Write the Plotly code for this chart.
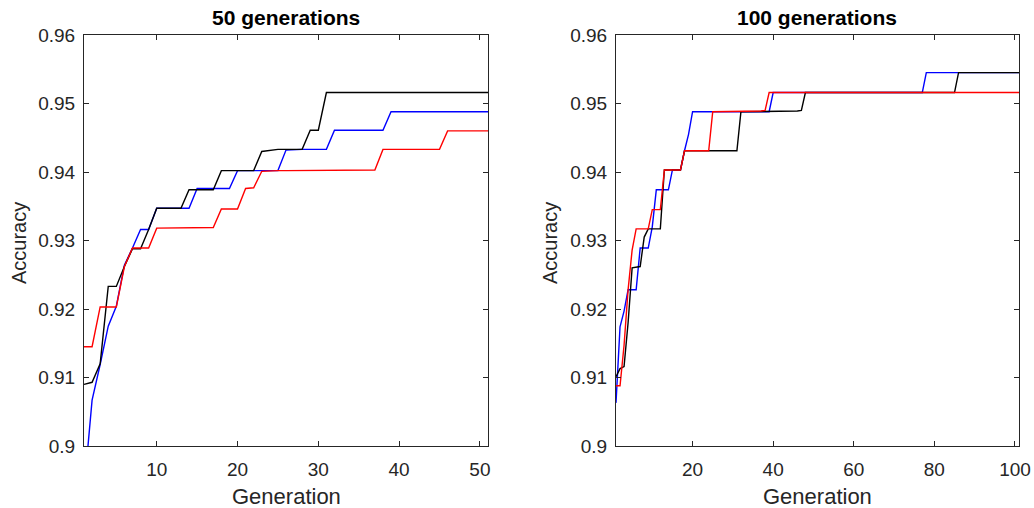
import plotly.graph_objects as go

gen_50 = list(range(1, 52))
gen_100 = list(range(1, 102))

black_50 = [
    0.9090, 0.9093, 0.9120, 0.9233, 0.9233, 0.9262, 0.9288, 0.9288, 0.9316, 0.9347,
    0.9347, 0.9347, 0.9347, 0.9374, 0.9374, 0.9374, 0.9374, 0.9402, 0.9402, 0.9402,
    0.9402, 0.9402, 0.9430, 0.9432, 0.9433, 0.9433, 0.9433, 0.9433, 0.9461, 0.9461,
    0.9516, 0.9516, 0.9516, 0.9516, 0.9516, 0.9516, 0.9516, 0.9516, 0.9516, 0.9516,
    0.9516, 0.9516, 0.9516, 0.9516, 0.9516, 0.9516, 0.9516, 0.9516, 0.9516, 0.9516,
    0.9516,
]
blue_50 = [
    0.8935, 0.9067, 0.9119, 0.9175, 0.9204, 0.9264, 0.9289, 0.9316, 0.9316, 0.9347,
    0.9347, 0.9347, 0.9347, 0.9347, 0.9376, 0.9376, 0.9376, 0.9376, 0.9376, 0.9402,
    0.9402, 0.9402, 0.9402, 0.9402, 0.9402, 0.9432, 0.9433, 0.9433, 0.9433, 0.9433,
    0.9433, 0.9461, 0.9461, 0.9461, 0.9461, 0.9461, 0.9461, 0.9461, 0.9488, 0.9488,
    0.9488, 0.9488, 0.9488, 0.9488, 0.9488, 0.9488, 0.9488, 0.9488, 0.9488, 0.9488,
    0.9488,
]
red_50 = [
    0.9145, 0.9145, 0.9203, 0.9203, 0.9203, 0.9262, 0.9289, 0.9289, 0.9289, 0.9318,
    0.9318, 0.9318, 0.9318, 0.9318, 0.9318, 0.9319, 0.9319, 0.9346, 0.9346, 0.9346,
    0.9376, 0.9377, 0.9401, 0.9402, 0.9402, 0.9402, 0.9402, 0.9403, 0.9403, 0.9403,
    0.9403, 0.9403, 0.9403, 0.9403, 0.9403, 0.9403, 0.9403, 0.9433, 0.9433, 0.9433,
    0.9433, 0.9433, 0.9433, 0.9433, 0.9433, 0.9460, 0.9460, 0.9460, 0.9460, 0.9460,
    0.9460,
]

blue_100 = [
    0.9063, 0.9174, 0.9197, 0.9228, 0.9228, 0.9228, 0.9289, 0.9289, 0.9289, 0.9320,
    0.9374, 0.9374, 0.9374, 0.9374, 0.9403, 0.9403, 0.9403, 0.9431, 0.9455, 0.9488,
    0.9488, 0.9488, 0.9488, 0.9488, 0.9488, 0.9488, 0.9488, 0.9488, 0.9488, 0.9488,
    0.9488, 0.9488, 0.9488, 0.9488, 0.9488, 0.9488, 0.9488, 0.9488, 0.9488, 0.9516,
    0.9516, 0.9516, 0.9516, 0.9516, 0.9516, 0.9516, 0.9516, 0.9516, 0.9516, 0.9516,
    0.9516, 0.9516, 0.9516, 0.9516, 0.9516, 0.9516, 0.9516, 0.9516, 0.9516, 0.9516,
    0.9516, 0.9516, 0.9516, 0.9516, 0.9516, 0.9516, 0.9516, 0.9516, 0.9516, 0.9516,
    0.9516, 0.9516, 0.9516, 0.9516, 0.9516, 0.9516, 0.9516, 0.9545, 0.9545, 0.9545,
    0.9545, 0.9545, 0.9545, 0.9545, 0.9545, 0.9545, 0.9545, 0.9545, 0.9545, 0.9545,
    0.9545, 0.9545, 0.9545, 0.9545, 0.9545, 0.9545, 0.9545, 0.9545, 0.9545, 0.9545,
    0.9545,
]
black_100 = [
    0.9101, 0.9113, 0.9116, 0.9180, 0.9260, 0.9261, 0.9262, 0.9305, 0.9317, 0.9317,
    0.9317, 0.9317, 0.9403, 0.9403, 0.9403, 0.9403, 0.9403, 0.9431, 0.9431, 0.9431,
    0.9431, 0.9431, 0.9431, 0.9431, 0.9431, 0.9431, 0.9431, 0.9431, 0.9431, 0.9431,
    0.9431, 0.9488, 0.9488, 0.9488, 0.9488, 0.9488, 0.9488, 0.9488, 0.9488, 0.9488,
    0.9488, 0.9488, 0.9489, 0.9489, 0.9489, 0.9489, 0.9490, 0.9516, 0.9516, 0.9516,
    0.9516, 0.9516, 0.9516, 0.9516, 0.9516, 0.9516, 0.9516, 0.9516, 0.9516, 0.9516,
    0.9516, 0.9516, 0.9516, 0.9516, 0.9516, 0.9516, 0.9516, 0.9516, 0.9516, 0.9516,
    0.9516, 0.9516, 0.9516, 0.9516, 0.9516, 0.9516, 0.9516, 0.9516, 0.9516, 0.9516,
    0.9516, 0.9516, 0.9516, 0.9516, 0.9516, 0.9545, 0.9545, 0.9545, 0.9545, 0.9545,
    0.9545, 0.9545, 0.9545, 0.9545, 0.9545, 0.9545, 0.9545, 0.9545, 0.9545, 0.9545,
    0.9545,
]
red_100 = [
    0.9088, 0.9088, 0.9147, 0.9228, 0.9286, 0.9317, 0.9317, 0.9317, 0.9317, 0.9345,
    0.9345, 0.9345, 0.9403, 0.9403, 0.9403, 0.9403, 0.9403, 0.9431, 0.9431, 0.9431,
    0.9431, 0.9431, 0.9431, 0.9431, 0.9488, 0.9488, 0.9488, 0.9488, 0.9488, 0.9488,
    0.9488, 0.9488, 0.9488, 0.9489, 0.9489, 0.9489, 0.9489, 0.9490, 0.9516, 0.9516,
    0.9516, 0.9516, 0.9516, 0.9516, 0.9516, 0.9516, 0.9516, 0.9516, 0.9516, 0.9516,
    0.9516, 0.9516, 0.9516, 0.9516, 0.9516, 0.9516, 0.9516, 0.9516, 0.9516, 0.9516,
    0.9516, 0.9516, 0.9516, 0.9516, 0.9516, 0.9516, 0.9516, 0.9516, 0.9516, 0.9516,
    0.9516, 0.9516, 0.9516, 0.9516, 0.9516, 0.9516, 0.9516, 0.9516, 0.9516, 0.9516,
    0.9516, 0.9516, 0.9516, 0.9516, 0.9516, 0.9516, 0.9516, 0.9516, 0.9516, 0.9516,
    0.9516, 0.9516, 0.9516, 0.9516, 0.9516, 0.9516, 0.9516, 0.9516, 0.9516, 0.9516,
    0.9516,
]

y_tickvals = [0.90, 0.91, 0.92, 0.93, 0.94, 0.95, 0.96]
y_ticktext = ["0.9", "0.91", "0.92", "0.93", "0.94", "0.95", "0.96"]
x50_tickvals = [10, 20, 30, 40, 50]
x100_tickvals = [20, 40, 60, 80, 100]
titles = ["50 generations", "100 generations"]

W, H = 1034, 508
INK = "#262626"
FONT = "Liberation Sans, Arial, Helvetica, sans-serif"
LW = 1.4

fig = go.Figure()
for xs, ys, col in [(gen_50, blue_50, "#0000ff"), (gen_50, black_50, "#000000"), (gen_50, red_50, "#ff0000")]:
    fig.add_trace(go.Scatter(x=xs, y=ys, mode="lines", line=dict(color=col, width=LW),
                             xaxis="x", yaxis="y", showlegend=False))
for xs, ys, col in [(gen_100, blue_100, "#0000ff"), (gen_100, black_100, "#000000"), (gen_100, red_100, "#ff0000")]:
    fig.add_trace(go.Scatter(x=xs, y=ys, mode="lines", line=dict(color=col, width=LW),
                             xaxis="x2", yaxis="y2", showlegend=False))

left_dom = [84 / W, 488 / W]
right_dom = [616 / W, 1019 / W]
y_dom = [(H - 446) / H, (H - 35) / H]

common_axis = dict(showline=True, linecolor=INK, linewidth=1, mirror="ticks",
                   ticks="inside", ticklen=5, tickwidth=1, tickcolor=INK,
                   showgrid=False, zeroline=False, automargin=False,
                   tickfont=dict(family=FONT, size=19, color=INK))

fig.update_layout(
    template="none",
    width=W, height=H,
    margin=dict(l=0, r=0, t=0, b=0, pad=0, autoexpand=False),
    paper_bgcolor="white", plot_bgcolor="white",
    xaxis=dict(domain=left_dom, range=[1, 51], tickvals=x50_tickvals, anchor="y",
               ticklabelstandoff=6, **common_axis),
    yaxis=dict(domain=y_dom, range=[0.9, 0.96], tickvals=y_tickvals, ticktext=y_ticktext,
               anchor="x", ticklabelstandoff=4, **common_axis),
    xaxis2=dict(domain=right_dom, range=[1, 101], tickvals=x100_tickvals, anchor="y2",
                ticklabelstandoff=6, **common_axis),
    yaxis2=dict(domain=y_dom, range=[0.9, 0.96], tickvals=y_tickvals, ticktext=y_ticktext,
                anchor="x2", ticklabelstandoff=4, **common_axis),
)

ann = []
for dom, t, ylab_x in [(left_dom, titles[0], 19), (right_dom, titles[1], 550)]:
    cx = (dom[0] + dom[1]) / 2
    ann.append(dict(text="<b>" + t + "</b>", x=cx, y=1 - 17 / H, xref="paper", yref="paper",
                    xanchor="center", yanchor="middle", showarrow=False,
                    font=dict(family=FONT, size=21, color="#000000")))
    ann.append(dict(text="Generation", x=cx, y=1 - 496 / H, xref="paper", yref="paper",
                    xanchor="center", yanchor="middle", showarrow=False,
                    font=dict(family=FONT, size=22, color=INK)))
    ann.append(dict(text="Accuracy", x=ylab_x / W, y=1 - 243 / H, xref="paper", yref="paper",
                    xanchor="center", yanchor="middle", showarrow=False, textangle=-90,
                    font=dict(family=FONT, size=20, color=INK)))
fig.update_layout(annotations=ann)

fig.write_html("out.html",
               config={"displayModeBar": False, "staticPlot": True},
               post_script="document.body.style.margin='0px';document.body.style.overflow='hidden';")
